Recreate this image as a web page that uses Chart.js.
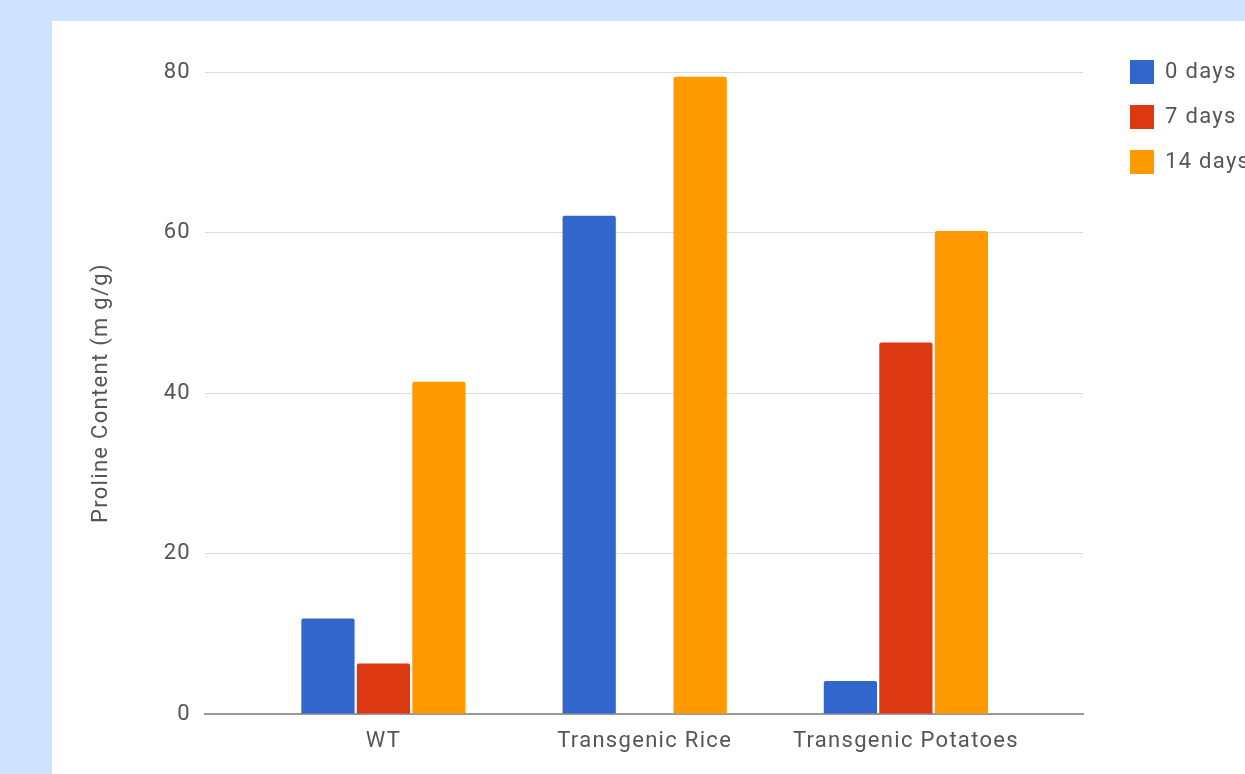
<!DOCTYPE html>
<html>
<head>
<meta charset="utf-8">
<script src="https://cdn.jsdelivr.net/npm/chart.js@4"></script>
<style>
  html, body { margin: 0; padding: 0; overflow: hidden; }
  body { width: 1245px; height: 774px; background: #cfe2ff; position: relative; }
  #panel { position: absolute; left: 52px; top: 21px; right: 0; bottom: 0; background: #fff; }
  #chart { position: absolute; left: 0; top: 0; }
</style>
</head>
<body>
<div id="panel"><canvas id="chart" width="1193" height="753"></canvas></div>
<script>
const categories = ["WT", "Transgenic Rice", "Transgenic Potatoes"];
const days0 = [11.9, 62.1, 4.1];
const days7 = [6.3, null, 46.3];
const days14 = [41.4, 79.4, 60.2];
const yTicks = [0, 20, 40, 60, 80];

Chart.defaults.font.family = "Roboto";
Chart.defaults.font.size = 22;
Chart.defaults.color = "#555";

// the source text is a bit wider than Roboto, spread the letters
const spacing = {
  id: "spacing",
  beforeUpdate(chart) { chart.ctx.letterSpacing = "1.3px"; },
  beforeDraw(chart) { chart.ctx.letterSpacing = "1.3px"; }
};

// move the legend up and right, like the google chart
const legendPlace = {
  id: "legendPlace",
  afterLayout(chart) {
    const lg = chart.legend;
    lg.left = chart.chartArea.right + 26;
    lg.top = chart.chartArea.top - 33;
    lg.right = lg.left + 300;
    lg.bottom = lg.top + 200;
  }
};

new Chart(document.getElementById("chart"), {
  type: "bar",
  data: {
    labels: categories,
    datasets: [
      { label: "0 days", data: days0, backgroundColor: "#3366cc" },
      { label: "7 days", data: days7, backgroundColor: "#dc3912" },
      { label: "14 days", data: days14, backgroundColor: "#ff9900" }
    ]
  },
  options: {
    responsive: false,
    animation: false,
    categoryPercentage: 0.637,
    barPercentage: 0.96,
    borderRadius: 2,
    layout: { padding: { top: 51, right: 62, bottom: 0, left: 0 } },
    plugins: {
      legend: {
        position: "right",
        align: "start",
        maxWidth: 100,
        labels: { boxWidth: 24, boxHeight: 24, padding: 21 }
      },
      tooltip: { enabled: false }
    },
    scales: {
      x: {
        grid: { display: false, drawTicks: false },
        border: { display: true, color: "#999", width: 2 },
        ticks: { padding: 14 },
        afterFit(s) { s.height = 60; },
        afterBuildTicks(s) {
          // extra room at both ends of the category axis
          s._startValue = -0.683;
          s._valueRange = 3.361;
        }
      },
      y: {
        min: 0,
        max: 80,
        afterBuildTicks(s) { s.ticks = yTicks.map(v => ({ value: v })); },
        grid: { color: "#dcdcdc", drawTicks: false },
        border: { display: false },
        ticks: { padding: 14 },
        title: {
          display: true,
          text: "Proline Content (m g/g)",
          padding: { top: 36, bottom: 0 }
        },
        afterFit(s) { s.width = 153; }
      }
    }
  },
  plugins: [spacing, legendPlace]
});
</script>
</body>
</html>
